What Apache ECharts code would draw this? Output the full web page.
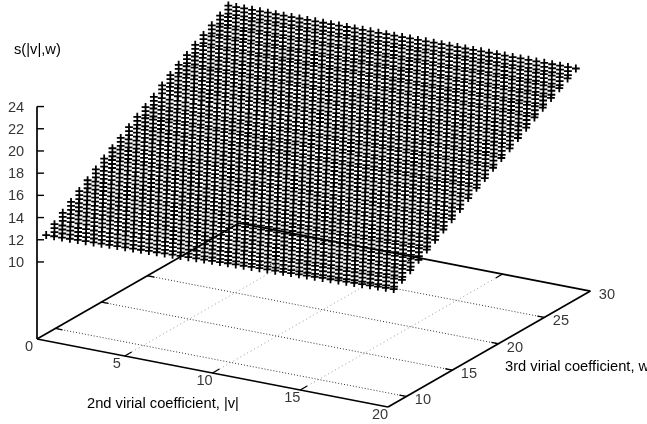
<!DOCTYPE html>
<html>
<head>
<meta charset="utf-8">
<style>html,body{margin:0;padding:0;background:#fff}#c{width:647px;height:424px}</style>
<script src="https://cdn.jsdelivr.net/npm/echarts@6/dist/echarts.min.js"></script>
</head>
<body>
<div id="c"></div>
<script>
const vTicks = [0, 5, 10, 15, 20];
const wTicks = [10, 15, 20, 25, 30];
const zTicks = [10, 12, 14, 16, 18, 20, 22, 24];
const vValues = [0,0.45,0.9,1.35,1.8,2.25,2.7,3.15,3.6,4.05,4.5,4.95,5.4,5.85,6.3,6.75,7.2,7.65,8.1,8.55,9,9.45,9.9,10.35,10.8,11.25,11.7,12.15,12.6,13.05,13.5,13.95,14.4,14.85,15.3,15.75,16.2,16.65,17.1,17.55,18,18.45,18.9,19.35,19.8];
const wValues = [9,9.9,10.8,11.7,12.6,13.5,14.4,15.3,16.2,17.1,18,18.9,19.8,20.7,21.6,22.5,23.4,24.3,25.2,26.1,27,27.9,28.8];
const sRows = [
[11.95,11.98,12.00,12.03,12.06,12.09,12.11,12.14,12.17,12.20,12.22,12.25,12.28,12.31,12.33,12.36,12.39,12.41,12.44,12.47,12.50,12.52,12.55,12.58,12.61,12.63,12.66,12.69,12.71,12.74,12.77,12.80,12.82,12.85,12.88,12.91,12.93,12.96,12.99,13.01,13.04,13.07,13.10,13.12,13.15],
[12.50,12.52,12.55,12.57,12.60,12.62,12.64,12.67,12.69,12.72,12.74,12.76,12.79,12.81,12.83,12.86,12.88,12.91,12.93,12.95,12.98,13.00,13.03,13.05,13.07,13.10,13.12,13.15,13.17,13.19,13.22,13.24,13.26,13.29,13.31,13.34,13.36,13.38,13.41,13.43,13.46,13.48,13.50,13.53,13.55],
[13.10,13.12,13.14,13.16,13.18,13.20,13.22,13.24,13.26,13.28,13.30,13.33,13.35,13.37,13.39,13.41,13.43,13.45,13.47,13.49,13.51,13.53,13.55,13.57,13.59,13.61,13.63,13.65,13.67,13.69,13.71,13.73,13.75,13.78,13.80,13.82,13.84,13.86,13.88,13.90,13.92,13.94,13.96,13.98,14.00],
[13.65,13.67,13.69,13.71,13.73,13.75,13.77,13.79,13.80,13.82,13.84,13.86,13.88,13.90,13.92,13.94,13.96,13.98,14.00,14.02,14.04,14.06,14.07,14.09,14.11,14.13,14.15,14.17,14.19,14.21,14.23,14.25,14.27,14.29,14.31,14.33,14.34,14.36,14.38,14.40,14.42,14.44,14.46,14.48,14.50],
[14.20,14.22,14.24,14.25,14.27,14.29,14.31,14.33,14.35,14.36,14.38,14.40,14.42,14.44,14.45,14.47,14.49,14.51,14.53,14.55,14.56,14.58,14.60,14.62,14.64,14.65,14.67,14.69,14.71,14.73,14.75,14.76,14.78,14.80,14.82,14.84,14.85,14.87,14.89,14.91,14.93,14.95,14.96,14.98,15.00],
[14.75,14.77,14.78,14.80,14.81,14.83,14.85,14.86,14.88,14.89,14.91,14.93,14.94,14.96,14.97,14.99,15.00,15.02,15.04,15.05,15.07,15.08,15.10,15.12,15.13,15.15,15.16,15.18,15.20,15.21,15.23,15.24,15.26,15.27,15.29,15.31,15.32,15.34,15.35,15.37,15.39,15.40,15.42,15.43,15.45],
[15.30,15.31,15.33,15.34,15.36,15.37,15.39,15.40,15.42,15.43,15.45,15.46,15.48,15.49,15.51,15.52,15.54,15.55,15.57,15.58,15.60,15.61,15.63,15.64,15.66,15.67,15.68,15.70,15.71,15.73,15.74,15.76,15.77,15.79,15.80,15.82,15.83,15.85,15.86,15.88,15.89,15.91,15.92,15.94,15.95],
[15.85,15.86,15.88,15.89,15.90,15.92,15.93,15.95,15.96,15.97,15.99,16.00,16.01,16.03,16.04,16.05,16.07,16.08,16.10,16.11,16.12,16.14,16.15,16.16,16.18,16.19,16.20,16.22,16.23,16.25,16.26,16.27,16.29,16.30,16.31,16.33,16.34,16.35,16.37,16.38,16.40,16.41,16.42,16.44,16.45],
[16.35,16.36,16.38,16.39,16.40,16.42,16.43,16.45,16.46,16.47,16.49,16.50,16.51,16.53,16.54,16.55,16.57,16.58,16.60,16.61,16.62,16.64,16.65,16.66,16.68,16.69,16.70,16.72,16.73,16.75,16.76,16.77,16.79,16.80,16.81,16.83,16.84,16.85,16.87,16.88,16.90,16.91,16.92,16.94,16.95],
[16.85,16.86,16.88,16.89,16.91,16.92,16.94,16.95,16.97,16.98,17.00,17.01,17.03,17.04,17.06,17.07,17.09,17.10,17.12,17.13,17.15,17.16,17.18,17.19,17.21,17.22,17.23,17.25,17.26,17.28,17.29,17.31,17.32,17.34,17.35,17.37,17.38,17.40,17.41,17.43,17.44,17.46,17.47,17.49,17.50],
[17.40,17.41,17.43,17.44,17.45,17.47,17.48,17.50,17.51,17.52,17.54,17.55,17.56,17.58,17.59,17.60,17.62,17.63,17.65,17.66,17.67,17.69,17.70,17.71,17.73,17.74,17.75,17.77,17.78,17.80,17.81,17.82,17.84,17.85,17.86,17.88,17.89,17.90,17.92,17.93,17.95,17.96,17.97,17.99,18.00],
[17.90,17.91,17.93,17.94,17.95,17.96,17.98,17.99,18.00,18.01,18.03,18.04,18.05,18.06,18.08,18.09,18.10,18.11,18.13,18.14,18.15,18.16,18.18,18.19,18.20,18.21,18.23,18.24,18.25,18.26,18.28,18.29,18.30,18.31,18.33,18.34,18.35,18.36,18.38,18.39,18.40,18.41,18.43,18.44,18.45],
[18.35,18.36,18.38,18.39,18.40,18.42,18.43,18.45,18.46,18.47,18.49,18.50,18.51,18.53,18.54,18.55,18.57,18.58,18.60,18.61,18.62,18.64,18.65,18.66,18.68,18.69,18.70,18.72,18.73,18.75,18.76,18.77,18.79,18.80,18.81,18.83,18.84,18.85,18.87,18.88,18.90,18.91,18.92,18.94,18.95],
[18.85,18.86,18.88,18.89,18.90,18.91,18.93,18.94,18.95,18.96,18.98,18.99,19.00,19.01,19.03,19.04,19.05,19.06,19.08,19.09,19.10,19.11,19.13,19.14,19.15,19.16,19.18,19.19,19.20,19.21,19.23,19.24,19.25,19.26,19.28,19.29,19.30,19.31,19.33,19.34,19.35,19.36,19.38,19.39,19.40],
[19.45,19.46,19.47,19.48,19.49,19.50,19.50,19.51,19.52,19.53,19.54,19.55,19.56,19.57,19.58,19.59,19.60,19.61,19.61,19.62,19.63,19.64,19.65,19.66,19.67,19.68,19.69,19.70,19.70,19.71,19.72,19.73,19.74,19.75,19.76,19.77,19.78,19.79,19.80,19.80,19.81,19.82,19.83,19.84,19.85],
[19.95,19.96,19.97,19.98,19.99,20.00,20.00,20.01,20.02,20.03,20.04,20.05,20.06,20.07,20.08,20.09,20.10,20.11,20.11,20.12,20.13,20.14,20.15,20.16,20.17,20.18,20.19,20.20,20.20,20.21,20.22,20.23,20.24,20.25,20.26,20.27,20.28,20.29,20.30,20.30,20.31,20.32,20.33,20.34,20.35],
[20.45,20.46,20.47,20.48,20.49,20.50,20.50,20.51,20.52,20.53,20.54,20.55,20.56,20.57,20.58,20.59,20.60,20.61,20.61,20.62,20.63,20.64,20.65,20.66,20.67,20.68,20.69,20.70,20.70,20.71,20.72,20.73,20.74,20.75,20.76,20.77,20.78,20.79,20.80,20.80,20.81,20.82,20.83,20.84,20.85],
[20.90,20.91,20.92,20.93,20.94,20.95,20.96,20.97,20.98,20.99,21.00,21.01,21.02,21.03,21.04,21.05,21.06,21.07,21.08,21.09,21.10,21.11,21.12,21.13,21.14,21.16,21.17,21.18,21.19,21.20,21.21,21.22,21.23,21.24,21.25,21.26,21.27,21.28,21.29,21.30,21.31,21.32,21.33,21.34,21.35],
[21.40,21.41,21.42,21.43,21.44,21.45,21.45,21.46,21.47,21.48,21.49,21.50,21.51,21.52,21.53,21.54,21.55,21.56,21.56,21.57,21.58,21.59,21.60,21.61,21.62,21.63,21.64,21.65,21.65,21.66,21.67,21.68,21.69,21.70,21.71,21.72,21.73,21.74,21.75,21.75,21.76,21.77,21.78,21.79,21.80],
[21.85,21.86,21.87,21.88,21.89,21.90,21.90,21.91,21.92,21.93,21.94,21.95,21.96,21.97,21.98,21.99,22.00,22.01,22.01,22.02,22.03,22.04,22.05,22.06,22.07,22.08,22.09,22.10,22.10,22.11,22.12,22.13,22.14,22.15,22.16,22.17,22.18,22.19,22.20,22.20,22.21,22.22,22.23,22.24,22.25],
[22.30,22.31,22.32,22.33,22.34,22.35,22.35,22.36,22.37,22.38,22.39,22.40,22.41,22.42,22.43,22.44,22.45,22.46,22.46,22.47,22.48,22.49,22.50,22.51,22.52,22.53,22.54,22.55,22.55,22.56,22.57,22.58,22.59,22.60,22.61,22.62,22.63,22.64,22.65,22.65,22.66,22.67,22.68,22.69,22.70],
[22.75,22.76,22.77,22.78,22.79,22.80,22.80,22.81,22.82,22.83,22.84,22.85,22.86,22.87,22.88,22.89,22.90,22.91,22.91,22.92,22.93,22.94,22.95,22.96,22.97,22.98,22.99,23.00,23.00,23.01,23.02,23.03,23.04,23.05,23.06,23.07,23.08,23.09,23.10,23.10,23.11,23.12,23.13,23.14,23.15],
[23.22,23.23,23.24,23.25,23.26,23.27,23.27,23.28,23.29,23.30,23.31,23.32,23.33,23.34,23.35,23.36,23.37,23.38,23.38,23.39,23.40,23.41,23.42,23.43,23.44,23.45,23.46,23.47,23.47,23.48,23.49,23.50,23.51,23.52,23.53,23.54,23.55,23.56,23.57,23.57,23.58,23.59,23.60,23.61,23.62]
];

const FONT = '"Liberation Sans", Arial, Helvetica, sans-serif';
const vMin = 0, vMax = 20, wMin = 8, wMax = 30, zBase = 3.06;
// gnuplot-style parallel projection of (v, w, s) to the hidden plane axes
function project(v, w, z) {
  return [37 + 17.55 * v + 9.2 * (w - wMin), 339 + 3.4 * v - 5.27 * (w - wMin) - 11.1 * (z - zBase)];
}
const glyph = 'path://M3 0h1.8v16h-1.8z M0 3.1h7.8v1.8h-7.8z M0 7.1h7.8v1.8h-7.8z M0 11.1h7.8v1.8h-7.8z';
const plus = 'path://M3 0h1.8v8h-1.8z M0 3.1h7.8v1.8h-7.8z';
const glyphPts = [], plusPts = [];
wValues.forEach((w, j) => vValues.forEach((v, i) => {
  const p = project(v, w, sRows[j][i]);
  (j === 0 || i === vValues.length - 1 ? plusPts : glyphPts).push(p);
}));

const series = [];
function seg(a, b, color, width, type, z) {
  series.push({type: 'line', data: [a, b], symbol: 'none', silent: true, z: z,
    lineStyle: {color: color, width: width, type: type || 'solid', cap: 'butt'}});
}
// base grid
vTicks.slice(1, -1).forEach(v => seg(project(v, wMin, zBase), project(v, wMax, zBase), '#999', 1, [1, 3], 1));
wTicks.slice(0, -1).forEach(w => seg(project(vMin, w, zBase), project(vMax, w, zBase), '#333', 1, [1, 2], 1));
// surface
series.push({type: 'scatter', data: glyphPts, symbol: glyph, symbolSize: [7.8, 16], symbolOffset: [0, 4], itemStyle: {color: '#000', opacity: 1}, silent: true, z: 2});
series.push({type: 'scatter', data: plusPts, symbol: plus, symbolSize: [7.8, 8], itemStyle: {color: '#000', opacity: 1}, silent: true, z: 2});
// frame
const O = project(vMin, wMin, zBase), B = project(vMax, wMin, zBase), C = project(vMax, wMax, zBase), D = project(vMin, wMax, zBase);
[[O, B], [B, C], [C, D], [D, O]].forEach(s => seg(s[0], s[1], '#000', 1.7, null, 3));
seg(O, project(vMin, wMin, zTicks[zTicks.length - 1]), '#000', 1.7, null, 3);
vTicks.slice(1, -1).forEach(v => {
  seg(project(v, wMin, zBase), project(v, wMin + 0.75, zBase), '#000', 1.3, null, 3);
  seg(project(v, wMax, zBase), project(v, wMax - 0.75, zBase), '#000', 1.3, null, 3);
});
wTicks.slice(0, -1).forEach(w => {
  seg(project(vMin, w, zBase), project(vMin + 0.4, w, zBase), '#000', 1.3, null, 3);
  seg(project(vMax, w, zBase), project(vMax - 0.4, w, zBase), '#000', 1.3, null, 3);
});
zTicks.forEach(z => {
  const p = project(vMin, wMin, z);
  seg(p, [p[0] + 7, p[1]], '#000', 1.4, null, 3);
});
// tick labels
const labelPts = [];
vTicks.forEach(v => { const p = project(v, wMin, zBase); labelPts.push({value: [p[0] - 8, p[1] + 8], t: String(v)}); });
wTicks.forEach(w => { const p = project(vMax, w, zBase); labelPts.push({value: [p[0] + 16.5, p[1] + 4], t: String(w)}); });
zTicks.forEach(z => { const p = project(vMin, wMin, z); labelPts.push({value: [p[0] - 21, p[1] + 1], t: String(z)}); });
series.push({type: 'scatter', data: labelPts, symbolSize: 0, silent: true, z: 4,
  label: {show: true, position: 'inside', align: 'center', verticalAlign: 'middle', color: '#000', fontSize: 14.6, fontFamily: FONT,
    textBorderWidth: 0, formatter: p => p.data.t}});

const chart = echarts.init(document.getElementById('c'), null, {renderer: 'canvas'});
const title = (text, x, y) => ({type: 'text', x: x, y: y, silent: true,
  style: {text: text, fill: '#000', fontSize: 14.7, fontFamily: FONT, textAlign: 'left', textVerticalAlign: 'middle'}});
chart.setOption({
  animation: false,
  backgroundColor: '#fff',
  grid: {left: 0, top: 0, right: 0, bottom: 0},
  xAxis: {type: 'value', min: 0, max: 647, show: false},
  yAxis: {type: 'value', min: 0, max: 424, inverse: true, show: false},
  tooltip: {show: false},
  graphic: [
    title('s(|v|,w)', 14, 50),
    title('2nd virial coefficient, |v|', 87, 404),
    title('3rd virial coefficient, w', 505, 367)
  ],
  series: series
});
</script>
</body>
</html>
